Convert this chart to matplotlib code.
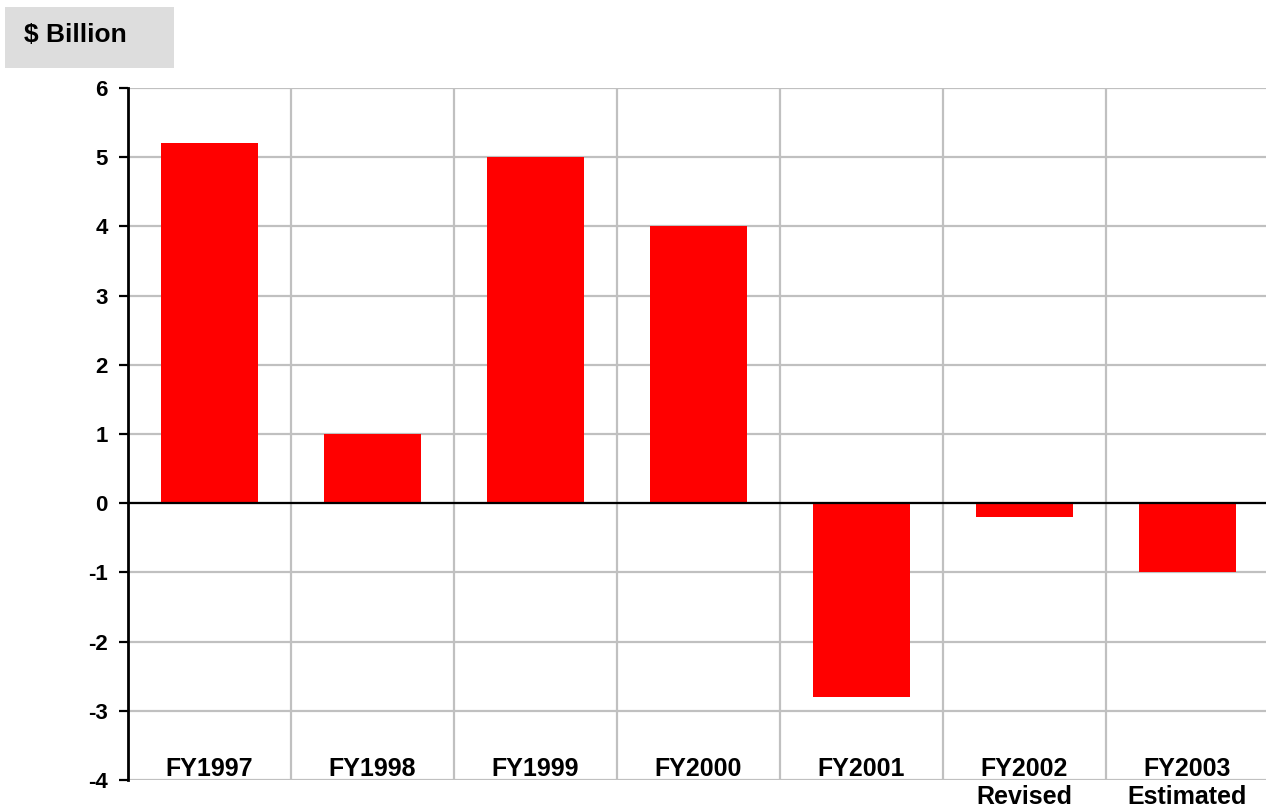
import matplotlib
matplotlib.use('Agg')
import matplotlib.pyplot as plt
import matplotlib.patches as mpatches
import numpy as np

plt.rcParams.update({
    'font.family': ['Liberation Sans', 'DejaVu Sans'],
    'font.weight': 'bold',
})

# ── Data ──
years   = ['FY1997', 'FY1998', 'FY1999', 'FY2000', 'FY2001', 'FY2002\nRevised', 'FY2003\nEstimated']
balance = [5.2, 1.0, 5.0, 4.0, -2.8, -0.2, -1.0]
yticks  = [-4, -3, -2, -1, 0, 1, 2, 3, 4, 5, 6]

W, H = 1266, 811
fig = plt.figure(figsize=(W / 100, H / 100), dpi=100)
fig.patch.set_facecolor('white')

ax = fig.add_axes([128 / W, 31 / H, 1141 / W, 692 / H])

x = np.arange(len(years))
ax.bar(x, balance, width=0.6, color='#ff0000', zorder=3)

ax.set_xlim(-0.5, len(years) - 0.5)
ax.set_ylim(-4, 6)
ax.set_yticks(yticks)
ax.set_yticklabels([str(v) for v in yticks], fontsize=16, fontweight='bold')
ax.set_xticks([])

# grid: horizontal at each unit, vertical between categories
for v in yticks:
    ax.axhline(v, color='#c0c0c0', lw=1.6, zorder=1)
for b in np.arange(0.5, len(years) - 0.5, 1):
    ax.axvline(b, color='#c0c0c0', lw=1.6, zorder=1)
ax.axhline(0, color='black', lw=1.6, zorder=4)

for s in ['top', 'right', 'bottom']:
    ax.spines[s].set_visible(False)
ax.spines['left'].set_linewidth(2)
ax.spines['left'].set_zorder(5)
ax.tick_params(axis='y', length=6.5, width=1.6, pad=8, direction='out')

# category labels sit inside the plot near the bottom
for i, name in enumerate(years):
    ax.text(i, -3.67, name, ha='center', va='top', fontsize=18,
            fontweight='bold', linespacing=1.2, clip_on=False, zorder=6)

# unit label box
fig.patches.append(mpatches.Rectangle((5 / W, 1 - 68 / H), 169 / W, 61 / H,
                                      transform=fig.transFigure,
                                      facecolor='#dddddd', edgecolor='none'))
fig.text(24 / W, 1 - 35 / H, '$ Billion', ha='left', va='center',
         fontsize=19, fontweight='bold')

plt.savefig('out.png', dpi=100, facecolor='white')
